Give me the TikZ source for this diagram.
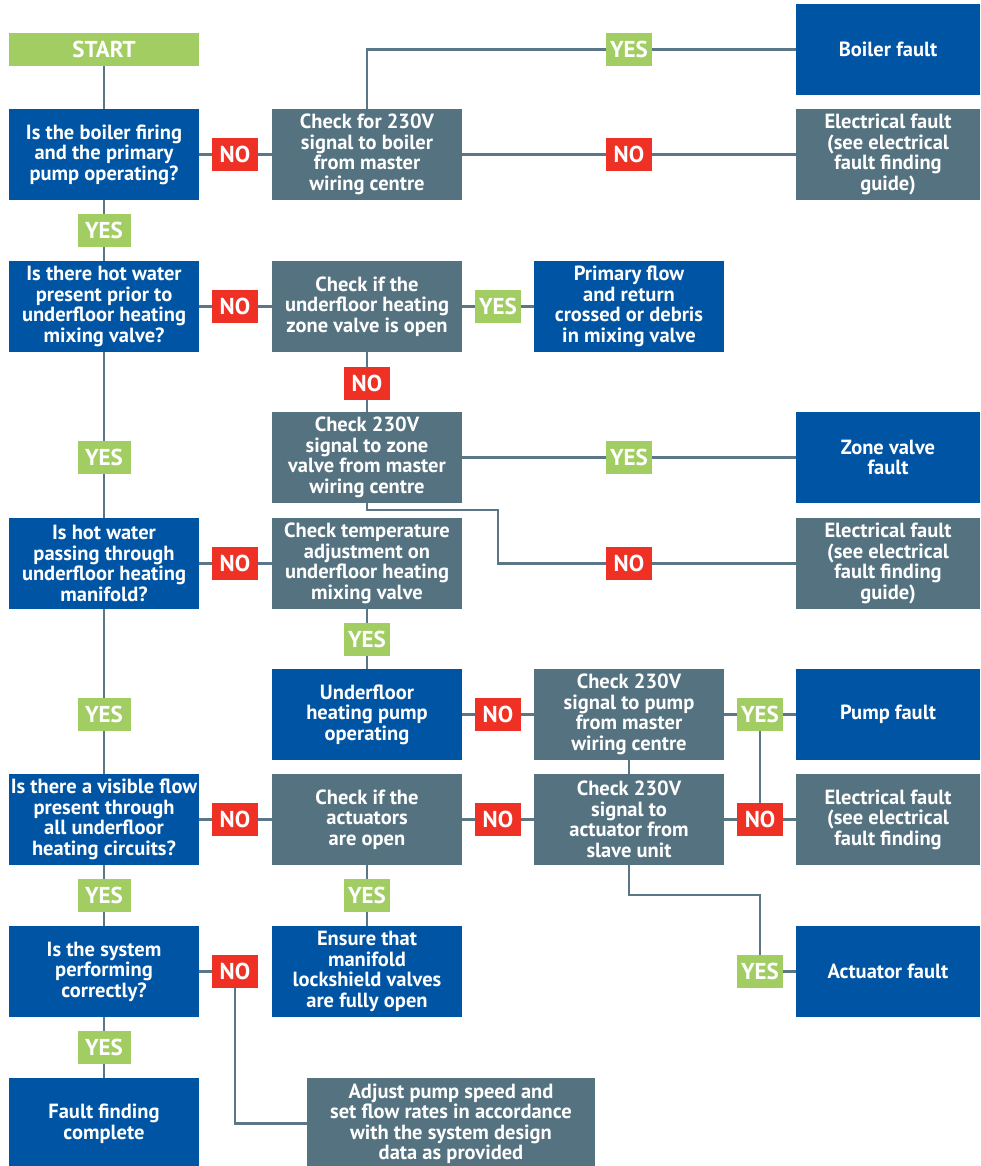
\documentclass[tikz,border=0pt]{standalone}
\usepackage{fontspec}
\setmainfont{PT Sans}
\definecolor{ubblue}{HTML}{0054A4}
\definecolor{ubgrey}{HTML}{557280}
\definecolor{ubgreen}{HTML}{A2CD62}
\definecolor{ubred}{HTML}{EE3124}
\definecolor{ubline}{HTML}{5B7686}
\newcommand{\boxfnt}{\fontsize{20.5}{20.5}\selectfont\bfseries}
\newcommand{\labfnt}{\fontsize{23}{23}\selectfont\bfseries}
\begin{document}
\begin{tikzpicture}[x=1pt,y=-1pt,
  box/.style={rectangle, inner sep=0pt, minimum width=190pt, minimum height=91pt, align=center, text=white, font=\boxfnt},
  bluebox/.style={box, fill=ubblue},
  greybox/.style={box, fill=ubgrey},
  narrowbox/.style={minimum width=184pt},
  lab/.style={rectangle, inner sep=0pt, minimum width=46pt, minimum height=33pt, text=white, font=\labfnt},
  yeslab/.style={lab, fill=ubgreen},
  nolab/.style={lab, fill=ubred},
  wideyes/.style={minimum width=53pt},
  conn/.style={draw=ubline, line width=2.6pt}]
\useasboundingbox (0,0) rectangle (980,1166);
% column 1
\node[box, fill=ubgreen, minimum height=33pt, font=\labfnt] (start) at (104,49.5) {START};
\node[bluebox] (q1) at (104,154.5) {Is the boiler firing\\and the primary\\pump operating?};
\node[bluebox] (q2) at (104,306.5) {Is there hot water\\present prior to\\underfloor heating\\mixing valve?};
\node[bluebox] (q3) at (104,563.5) {Is hot water\\passing through\\underfloor heating\\manifold?};
\node[bluebox] (q4) at (104,819.5) {Is there a visible flow\\present through\\all underfloor\\heating circuits?};
\node[bluebox] (q5) at (104,971.5) {Is the system\\performing\\correctly?};
\node[bluebox] (fin) at (104,1123.5) {Fault finding\\complete};
% column 2
\node[greybox] (c1) at (367,154.5) {Check for 230V\\signal to boiler\\from master\\wiring centre};
\node[greybox] (c2) at (367,306.5) {Check if the\\underfloor heating\\zone valve is open};
\node[greybox] (c3) at (367,457.5) {Check 230V\\signal to zone\\valve from master\\wiring centre};
\node[greybox] (c4) at (367,563.5) {Check temperature\\adjustment on\\underfloor heating\\mixing valve};
\node[bluebox] (pumpop) at (367,714.5) {Underfloor\\heating pump\\operating};
\node[greybox] (c7) at (367,819.5) {Check if the\\actuators\\are open};
\node[bluebox] (ensure) at (367,971.5) {Ensure that\\manifold\\lockshield valves\\are fully open};
\node[greybox, minimum width=288pt] (adjust) at (451,1123.5) {Adjust pump speed and\\set flow rates in accordance\\with the system design\\data as provided};
% column 3
\node[bluebox] (primary) at (629,306.5) {Primary flow\\and return\\crossed or debris\\in mixing valve};
\node[greybox] (c5) at (629,714.5) {Check 230V\\signal to pump\\from master\\wiring centre};
\node[greybox] (c6) at (629,819.5) {Check 230V\\signal to\\actuator from\\slave unit};
% column 4
\node[bluebox, narrowbox] (boiler) at (888,49.5) {Boiler fault};
\node[greybox, narrowbox] (e1) at (888,154.5) {Electrical fault\\(see electrical\\fault finding\\guide)};
\node[bluebox, narrowbox] (zone) at (888,457.5) {Zone valve\\fault};
\node[greybox, narrowbox] (e2) at (888,563.5) {Electrical fault\\(see electrical\\fault finding\\guide)};
\node[bluebox, narrowbox] (pumpf) at (888,714.5) {Pump fault};
\node[greybox, narrowbox] (e3) at (888,819.5) {Electrical fault\\(see electrical\\fault finding};
\node[bluebox, narrowbox] (actf) at (888,971.5) {Actuator fault};
% labels
\node[yeslab, wideyes] (y1) at (104,230.5) {YES};
\node[yeslab, wideyes] (y5) at (104,457.5) {YES};
\node[yeslab, wideyes] (y8) at (104,714.5) {YES};
\node[yeslab, wideyes] (y11) at (104,895.5) {YES};
\node[yeslab, wideyes] (y12) at (104,1047.5) {YES};
\node[nolab] (n1) at (235,154.5) {NO};
\node[nolab] (n3) at (235,306.5) {NO};
\node[nolab] (n6) at (235,563.5) {NO};
\node[nolab] (n8) at (235,819.5) {NO};
\node[nolab] (n11) at (235,971.5) {NO};
\node[nolab] (n4) at (367,383.5) {NO};
\node[yeslab] (y6) at (367,639.5) {YES};
\node[yeslab] (y10) at (367,895.5) {YES};
\node[yeslab] (y3) at (498,306.5) {YES};
\node[nolab] (n7) at (498,714.5) {NO};
\node[nolab] (n10) at (498,819.5) {NO};
\node[yeslab] (y2) at (629,49.5) {YES};
\node[nolab] (n2) at (629,154.5) {NO};
\node[yeslab] (y4) at (629,457.5) {YES};
\node[nolab] (n5) at (629,563.5) {NO};
\node[yeslab] (y7) at (760,714.5) {YES};
\node[nolab] (n9) at (760,819.5) {NO};
\node[yeslab] (y9) at (760,971.5) {YES};
\coordinate (k1) at (498,510);
\coordinate (k2) at (760,895);
% connectors
\path[conn] (start) -- (q1);
\path[conn] (q1) -- (y1) (y1) -- (q2);
\path[conn] (q1) -- (n1) (n1) -- (c1);
\path[conn] (c1) -- (n2) (n2) -- (e1);
\path[conn] (c1.north) |- (y2.west) (y2) -- (boiler);
\path[conn] (q2) -- (n3) (n3) -- (c2);
\path[conn] (c2) -- (y3) (y3) -- (primary);
\path[conn] (c2) -- (n4) (n4) -- (c3);
\path[conn] (c3) -- (y4) (y4) -- (zone);
\path[conn] (c3.south) |- (k1) |- (n5.west) (n5) -- (e2);
\path[conn] (q2) -- (y5) (y5) -- (q3);
\path[conn] (q3) -- (n6) (n6) -- (c4);
\path[conn] (c4) -- (y6) (y6) -- (pumpop);
\path[conn] (pumpop) -- (n7) (n7) -- (c5);
\path[conn] (c5) -- (y7) (y7) -- (pumpf);
\path[conn] (y7) -- (n9);
\path[conn] (c5) -- (c6);
\path[conn] (c6) -- (n9) (n9) -- (e3);
\path[conn] (c6.south) |- (k2) -- (y9.north) (y9) -- (actf);
\path[conn] (q3) -- (y8) (y8) -- (q4);
\path[conn] (q4) -- (n8) (n8) -- (c7);
\path[conn] (c7) -- (n10) (n10) -- (c6);
\path[conn] (c7) -- (y10) (y10) -- (ensure);
\path[conn] (q4) -- (y11) (y11) -- (q5);
\path[conn] (q5) -- (n11);
\path[conn] (n11.south) |- (adjust.west);
\path[conn] (q5) -- (y12) (y12) -- (fin);
\end{tikzpicture}
\end{document}
